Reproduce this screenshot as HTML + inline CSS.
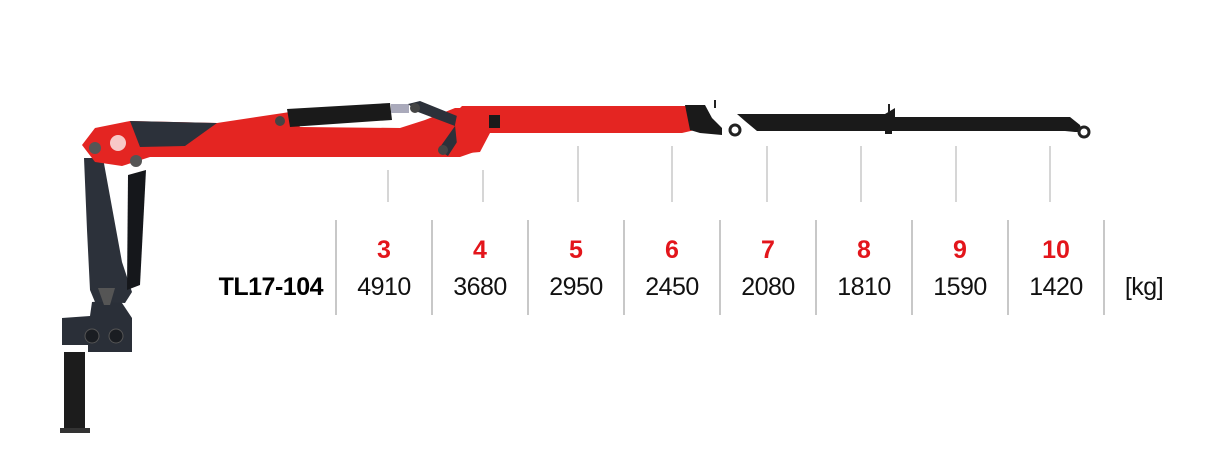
<!DOCTYPE html>
<html><head><meta charset="utf-8"><style>
html,body{margin:0;padding:0;background:#fff;}
body{width:1220px;height:472px;position:relative;overflow:hidden;font-family:"Liberation Sans",sans-serif;}
.t{position:absolute;text-align:center;width:96px;}
.r{color:#e3151b;font-weight:bold;font-size:25px;top:236px;}
.b{color:#111;font-size:25px;top:273px;letter-spacing:-0.5px;}
</style></head><body>
<svg width="1220" height="472" style="position:absolute;left:0;top:0">
<g stroke="#bbb" stroke-width="1.2">
<line x1="388" y1="170" x2="388" y2="202"/>
<line x1="483" y1="170" x2="483" y2="202"/>
<line x1="578" y1="146" x2="578" y2="202"/>
<line x1="672" y1="146" x2="672" y2="202"/>
<line x1="767" y1="146" x2="767" y2="202"/>
<line x1="861" y1="146" x2="861" y2="202"/>
<line x1="956" y1="146" x2="956" y2="202"/>
<line x1="1050" y1="146" x2="1050" y2="202"/>
</g>
<g stroke="#c8c8c8" stroke-width="2">
<line x1="336" y1="220" x2="336" y2="315"/>
<line x1="432" y1="220" x2="432" y2="315"/>
<line x1="528" y1="220" x2="528" y2="315"/>
<line x1="624" y1="220" x2="624" y2="315"/>
<line x1="720" y1="220" x2="720" y2="315"/>
<line x1="816" y1="220" x2="816" y2="315"/>
<line x1="912" y1="220" x2="912" y2="315"/>
<line x1="1008" y1="220" x2="1008" y2="315"/>
<line x1="1104" y1="220" x2="1104" y2="315"/>
</g>
<rect x="64" y="352" width="21" height="78" fill="#1c1c1c"/>
<rect x="60" y="428" width="30" height="5" fill="#333"/>
<polygon points="62,318 90,316 92,302 120,300 132,318 132,352 88,352 88,345 62,345" fill="#2a2f38"/>
<circle cx="92" cy="336" r="7" fill="#1a1d22" stroke="#555"/>
<circle cx="116" cy="336" r="7" fill="#1a1d22" stroke="#555"/>
<polygon points="84,158 103,158 122,262 132,292 125,303 95,302 90,290 87,230" fill="#2c313a"/>
<polygon points="128,175 146,170 140,285 127,290" fill="#15171b"/>
<polygon points="98,288 115,288 110,305 104,305" fill="#555"/>
<polygon points="82,145 95,128 130,121 217,123 290,112 300,127 400,128 425,120 455,108 480,108 480,150 460,157 150,157 122,166 95,162" fill="#e42522"/>
<polygon points="130,121 217,123 185,146 140,147" fill="#2c313a"/>
<circle cx="118" cy="143" r="8" fill="#fff" opacity="0.75"/>
<circle cx="95" cy="148" r="6" fill="#555"/>
<circle cx="136" cy="161" r="6" fill="#555"/>
<circle cx="280" cy="121" r="5" fill="#444"/>
<polygon points="287,109 390,103 392,120 290,127" fill="#1a1a1a"/>
<rect x="391" y="104" width="18" height="9" fill="#aab"/>
<polygon points="408,104 420,101 462,118 470,122 448,156 438,150 455,126 418,112" fill="#2c313a"/>
<circle cx="415" cy="108" r="5" fill="#444"/>
<circle cx="443" cy="150" r="5" fill="#444"/>
<polygon points="458,110 462,106 690,106 695,110 695,130 682,133 490,133 480,152 458,154 455,125" fill="#e42522"/>
<rect x="489" y="115" width="11" height="13" fill="#1a1a1a"/>
<polygon points="685,105 705,105 712,118 722,128 722,135 700,133 690,130" fill="#1a1a1a"/>
<circle cx="735" cy="130" r="5" fill="#fff" stroke="#222" stroke-width="3"/>
<line x1="715" y1="100" x2="715" y2="108" stroke="#222" stroke-width="2"/>
<polygon points="737,114 885,114 895,108 895,117 1070,117 1080,125 1082,132 1075,132 1065,131 892,131 892,134 885,134 885,131 757,131 745,121" fill="#1a1a1a"/>
<circle cx="1084" cy="132" r="5" fill="#fff" stroke="#222" stroke-width="3"/>
<line x1="889" y1="104" x2="889" y2="112" stroke="#222" stroke-width="2"/>
</svg>
<div style="position:absolute;left:200px;top:273px;width:123px;text-align:right;font-weight:bold;font-size:25px;letter-spacing:-0.5px;color:#000">TL17-104</div>
<div class="t r" style="left:336px">3</div>
<div class="t r" style="left:432px">4</div>
<div class="t r" style="left:528px">5</div>
<div class="t r" style="left:624px">6</div>
<div class="t r" style="left:720px">7</div>
<div class="t r" style="left:816px">8</div>
<div class="t r" style="left:912px">9</div>
<div class="t r" style="left:1008px">10</div>
<div class="t b" style="left:336px">4910</div>
<div class="t b" style="left:432px">3680</div>
<div class="t b" style="left:528px">2950</div>
<div class="t b" style="left:624px">2450</div>
<div class="t b" style="left:720px">2080</div>
<div class="t b" style="left:816px">1810</div>
<div class="t b" style="left:912px">1590</div>
<div class="t b" style="left:1008px">1420</div>
<div class="t b" style="left:1096px">[kg]</div>
</body></html>
